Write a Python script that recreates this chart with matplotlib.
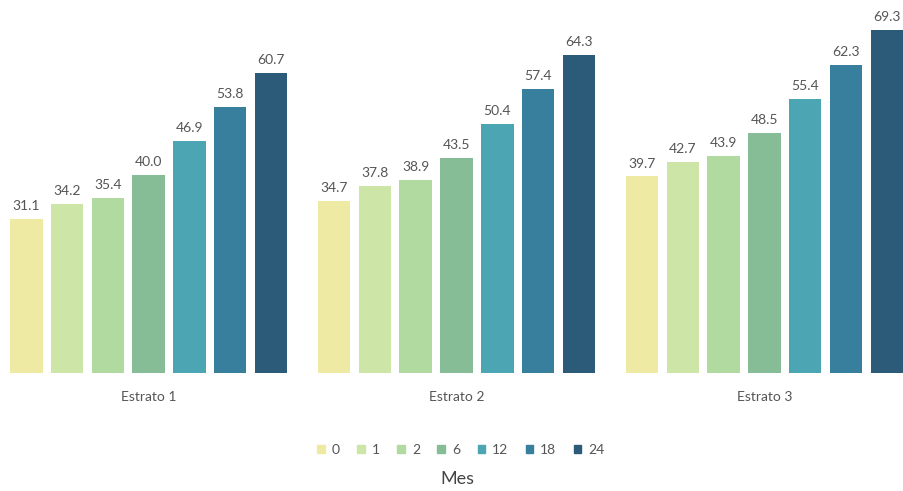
import numpy as np
import matplotlib
matplotlib.use("Agg")
import matplotlib.pyplot as plt
from matplotlib.patches import Patch

plt.rcParams['font.family'] = ['Lato', 'DejaVu Sans']

estratos = ["Estrato 1", "Estrato 2", "Estrato 3"]
meses = ["0", "1", "2", "6", "12", "18", "24"]
valores = [
    [31.1, 34.2, 35.4, 40.0, 46.9, 53.8, 60.7],
    [34.7, 37.8, 38.9, 43.5, 50.4, 57.4, 64.3],
    [39.7, 42.7, 43.9, 48.5, 55.4, 62.3, 69.3],
]
colores = ["#eeeaa4", "#cde6a7", "#b0da9f", "#86bd97", "#4ca5b3", "#377f9c", "#2b5b79"]

txt = "#555555"
pitch = 0.1325
ancho = 0.1055

fig = plt.figure(figsize=(9.04, 4.91), dpi=100)
ax = fig.add_axes([0, 0.2403, 1, 0.7597])

x = np.arange(len(estratos))
for j, m in enumerate(meses):
    vals = [v[j] for v in valores]
    pos = x + (j - 3) * pitch
    bars = ax.bar(pos, vals, width=ancho, color=colores[j], label=m)
    for b, v in zip(bars, vals):
        ax.annotate("%.1f" % v, (b.get_x() + b.get_width() / 2, v),
                    xytext=(0, 5), textcoords="offset points",
                    ha="center", va="bottom", fontsize=10, color=txt)

ax.set_xlim(-0.4828, 2.4535)
ax.set_ylim(0, 75.35)
ax.set_xticks(x)
ax.set_xticklabels(estratos, fontsize=10, color=txt)
ax.tick_params(axis="x", length=0, pad=13)
ax.set_yticks([])
for s in ax.spines.values():
    s.set_visible(False)

handles = [Patch(color=c) for c in colores]
fig.legend(handles, meses, loc="center", bbox_to_anchor=(461 / 904, 1 - 450 / 491),
           ncol=7, frameon=False, fontsize=10, handlelength=0.55, handleheight=0.55,
           handletextpad=0.5, columnspacing=1.25, labelcolor=txt)
fig.text(457 / 904, 1 - 479 / 491, "Mes", ha="center", va="center", fontsize=13, color="#444444")

fig.savefig("out.png", dpi=100)
